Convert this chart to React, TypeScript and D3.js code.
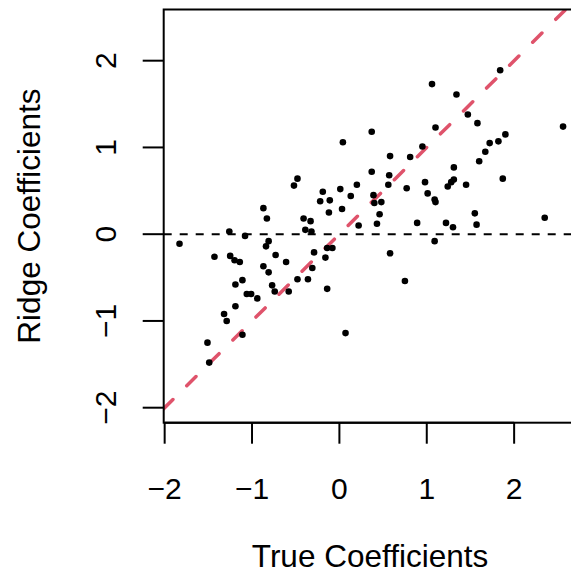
import React from "react";
import * as d3 from "d3";

const trueCoef: number[] = [
  -1.83, -1.43, -1.26, -1.25, -1.2, -1.14, -1.08, -1.11, -1.19, -1.06, -1.01, -0.94, -1.19, -1.32, -1.29, -1.11, -1.51, -1.49,
  -0.87, -0.83, -0.81, -0.84, -0.73, -0.87, -0.81, -0.61, -0.77, -0.74, -0.58, -0.48,
  -0.41, -0.33, -0.39, -0.32, -0.22, -0.11, -0.12, 0.03, 0.22, -0.29, -0.16, -0.08, -0.14, -0.31, -0.36, -0.14, 0.07,
  -0.19, 0.01, 0.2, 0.13, -0.48, -0.52, 0.04, 0.37, 1.06, 1.1, 0.95, 0.81, 0.58, 0.37, 0.57, 0.56, 0.77, 0.98, 1.01, 1.09, 1.1,
  0.39, 0.4, 0.48, 0.46, 0.43, 0.89, 1.09, 0.58, 0.75, 1.22, 1.3, 1.55, 1.57, 2.35,
  1.84, 1.34, 1.47, 1.58, 2.56, 1.9, 1.82, 1.72, 1.67, 1.6, 1.31, 1.28, 1.24, 1.31, 1.45, 1.87,
];
const ridgeCoef: number[] = [
  -0.11, -0.26, 0.03, -0.25, -0.3, -0.32, -0.02, -0.53, -0.58, -0.69, -0.69, -0.74, -0.83, -0.92, -1.0, -1.16, -1.25, -1.48,
  0.3, 0.18, -0.08, -0.14, -0.24, -0.37, -0.44, -0.32, -0.59, -0.66, -0.66, -0.52,
  0.18, 0.15, 0.05, 0.03, 0.38, 0.39, 0.25, 0.29, 0.1, -0.21, -0.27, -0.16, -0.16, -0.39, -0.52, -0.63, -1.14,
  0.49, 0.52, 0.57, 0.44, 0.64, 0.56, 1.06, 1.18, 1.73, 1.23, 1.01, 0.89, 0.9, 0.72, 0.68, 0.57, 0.53, 0.6, 0.47, 0.4, 0.37,
  0.45, 0.36, 0.37, 0.23, 0.12, 0.13, -0.08, -0.22, -0.54, 0.13, 0.08, 0.24, 0.11, 0.19,
  1.89, 1.61, 1.38, 1.28, 1.24, 1.15, 1.07, 1.05, 0.95, 0.84, 0.77, 0.6, 0.55, 0.63, 0.57, 0.64,
];
const xTicks: number[] = [-2, -1, 0, 1, 2];
const yTicks: number[] = [-2, -1, 0, 1, 2];
const xTitle = "True Coefficients";
const yTitle = "Ridge Coefficients";

const W = 571;
const H = 576;
const left = 163.7;
const right = 588.4;
const top = 9.5;
const bottom = 422.7;
const FONT = "'Liberation Sans', Arial, Helvetica, sans-serif";
const FS = 30;
const FS_TITLE = 31.5;

const fmt = (v: number) => (v < 0 ? "\u2212" + Math.abs(v) : String(v));

export default function App() {
  const x = d3.scaleLinear().domain([-2.011, 2.85]).range([left, right]);
  const y = d3.scaleLinear().domain([-2.173, 2.59]).range([bottom, top]);
  const pts = trueCoef.map((t, i) => [t, ridgeCoef[i]] as [number, number]);
  const diag = d3.line<number>().x((v) => x(v)).y((v) => y(v));
  return (
    <svg
      width={W}
      height={H}
      style={{ position: "absolute", left: 0, top: 0, background: "#fff" }}
      fontFamily={FONT}
    >
      <defs>
        <clipPath id="plotclip">
          <rect x={left} y={top} width={right - left} height={bottom - top} />
        </clipPath>
      </defs>
      <g clipPath="url(#plotclip)">
        <line
          x1={left}
          x2={right}
          y1={y(0)}
          y2={y(0)}
          stroke="#000"
          strokeWidth={2}
          strokeDasharray="8 8"
        />
        <path
          d={diag([-2.011, 2.9]) || ""}
          stroke="#DF536B"
          strokeWidth={3.5}
          fill="none"
          strokeDasharray="13 19.5"
          strokeDashoffset={0}
          strokeLinecap="round"
        />
        {pts.map((p, i) => (
          <circle key={i} cx={x(p[0])} cy={y(p[1])} r={3.3} fill="#000" />
        ))}
      </g>
      <rect x={left} y={top} width={right - left} height={bottom - top} fill="none" stroke="#000" strokeWidth={2} />
      {xTicks.map((t) => (
        <g key={"x" + t}>
          <line x1={x(t)} x2={x(t)} y1={bottom} y2={bottom + 21} stroke="#000" strokeWidth={2} />
          <text x={x(t)} y={499} textAnchor="middle" fontSize={FS} fill="#000">
            {fmt(t)}
          </text>
        </g>
      ))}
      <line x1={x(-2)} x2={x(2)} y1={bottom} y2={bottom} stroke="#000" strokeWidth={2} />
      {yTicks.map((t) => (
        <g key={"y" + t}>
          <line x1={left - 21} x2={left} y1={y(t)} y2={y(t)} stroke="#000" strokeWidth={2} />
          <text
            transform={`translate(116,${y(t)}) rotate(-90)`}
            textAnchor="middle"
            fontSize={FS}
            fill="#000"
          >
            {fmt(t)}
          </text>
        </g>
      ))}
      <text x={370} y={567} textAnchor="middle" fontSize={FS_TITLE} fill="#000">
        {xTitle}
      </text>
      <text transform={`translate(40,${(top + bottom) / 2}) rotate(-90)`} textAnchor="middle" fontSize={FS_TITLE} fill="#000">
        {yTitle}
      </text>
    </svg>
  );
}
